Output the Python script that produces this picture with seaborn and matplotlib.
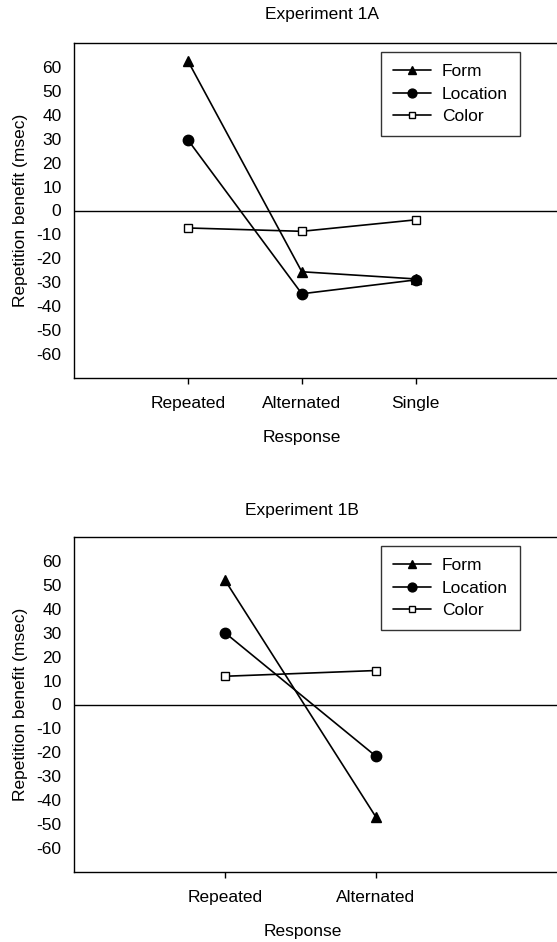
import matplotlib
matplotlib.use("Agg")
import matplotlib.pyplot as plt
import seaborn as sns
import pandas as pd

sns.set_theme(style="white")
plt.rcParams['font.family'] = ['Liberation Sans', 'DejaVu Sans']
plt.rcParams.update({"text.color": "black", "axes.labelcolor": "black",
                     "xtick.color": "black", "ytick.color": "black"})

# ---- data ----
conditions = ["Form", "Location", "Color"]
responses_1a = ["Repeated", "Alternated", "Single"]
form_1a = [62.5, -25.6, -28.6]
location_1a = [29.5, -34.8, -29.0]
color_1a = [-7.3, -8.7, -3.9]

responses_1b = ["Repeated", "Alternated"]
form_1b = [52.0, -47.0]
location_1b = [30.0, -21.6]
color_1b = [11.8, 14.2]

yticks = [60, 50, 40, 30, 20, 10, 0, -10, -20, -30, -40, -50, -60]

styles = {
    "Form": dict(marker="^", ms=7, mfc="black"),
    "Location": dict(marker="o", ms=7.5, mfc="black"),
    "Color": dict(marker="s", ms=5.5, mfc="white"),
}

FS = 12.5
W, H = 557, 942
fig = plt.figure(figsize=(W / 100, H / 100), dpi=100)


def make_panel(rect, responses, series, title, title_xy, legend_anchor, xmax, xlabel_x):
    ax = fig.add_axes(rect)
    for name, vals in zip(conditions, series):
        df = pd.DataFrame({"Response": responses, "Benefit": vals})
        st = styles[name]
        sns.lineplot(data=df, x="Response", y="Benefit", ax=ax, color="black",
                     lw=1.2, marker=st["marker"], label=name, sort=False)
        ln = ax.lines[-1]
        ln.set_markersize(st["ms"])
        ln.set_markerfacecolor(st["mfc"])
        ln.set_markeredgecolor("black")
        ln.set_markeredgewidth(1.0)
    ax.axhline(0, color="black", lw=1.0, zorder=0)
    ax.set_ylim(-70, 70)
    ax.set_xlim(-1, xmax)
    ax.set_yticks(yticks)
    ax.set_yticklabels([str(t) for t in yticks], fontsize=FS)
    ax.set_xticks(range(len(responses)))
    ax.set_xticklabels(responses, fontsize=FS)
    ax.tick_params(axis="y", length=0, pad=9, labelcolor="black")
    ax.tick_params(axis="x", length=4, width=1, color="black", direction="out",
                   pad=9, bottom=True, labelcolor="black")
    ax.set_xlabel("Response", fontsize=FS, color="black")
    ax.xaxis.set_label_coords(xlabel_x, -0.155)
    ax.set_ylabel("Repetition benefit (msec)", fontsize=FS, labelpad=6, color="black")
    for s in ["top", "bottom", "left"]:
        ax.spines[s].set_visible(True)
        ax.spines[s].set_color("black")
        ax.spines[s].set_linewidth(1.0)
    ax.spines["right"].set_visible(False)
    leg = ax.legend(loc="upper right", bbox_to_anchor=legend_anchor,
                    borderaxespad=0, fontsize=FS, frameon=True, fancybox=False,
                    handlelength=2.2, labelspacing=0.42, borderpad=0.7,
                    handletextpad=0.6, markerscale=0.85)
    leg.get_frame().set_edgecolor("black")
    leg.get_frame().set_linewidth(1.0)
    for t in leg.get_texts():
        t.set_color("black")
    fig.text(title_xy[0] / W, 1 - title_xy[1] / H, title, ha="center",
             va="center", fontsize=FS, color="black")
    return ax


left = 74 / W
width = 1 - left
# top panel: y from 43 to 378 px
make_panel([left, 1 - 378 / H, width, (378 - 43) / H], responses_1a,
           [form_1a, location_1a, color_1a], "Experiment 1A", (322, 14),
           ((520 - 74) / 483, (378 - 52) / 335), 3.24, (302 - 74) / 483)
# bottom panel: y from 537 to 872 px
make_panel([left, 1 - 872 / H, width, (872 - 537) / H], responses_1b,
           [form_1b, location_1b, color_1b], "Experiment 1B", (302, 511),
           ((520 - 74) / 483, (872 - 546) / 335), 2.2, (303 - 74) / 483)

fig.savefig("out.png", dpi=100)
